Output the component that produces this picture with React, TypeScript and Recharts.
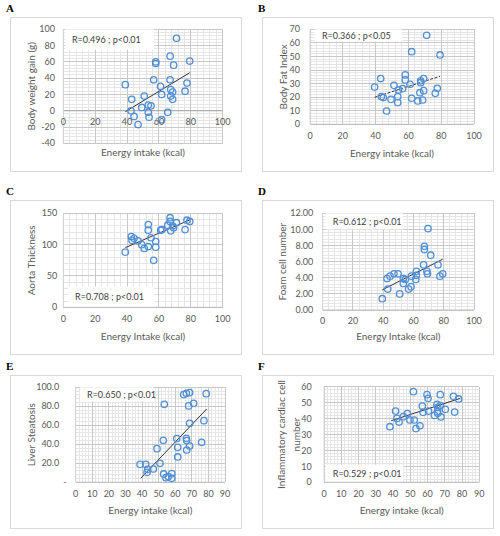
import React from "react";
import {
  ReferenceArea,
  ReferenceDot,
  ReferenceLine,
  Scatter,
  ScatterChart,
  XAxis,
  YAxis,
} from "recharts";

type Pair = [number, number];

const FONT = "Lato, 'Open Sans', Arial, sans-serif";
const INK = "#595959";
const BLUE = "#4F8FD6";

// energy intake (kcal) vs outcome, one pair per animal
const weightGain: Pair[] = [
  [38.9, 32], [42.9, 14], [42.5, 0], [44.4, -7], [46.9, -17], [49.2, 4], [50.8, 18],
  [53.3, 7], [53.3, -2], [53.8, -8], [55, 6], [56.7, 38], [58, 58], [58, 60], [61, 30],
  [61.7, 20], [61.7, -11], [65.5, -2], [67, 38], [67, 67], [67.4, 26], [67.4, 18],
  [68.6, 23], [68.6, 14], [69.2, 56], [71, 89], [76.4, 24], [77.6, 34], [79.3, 61],
];
const bodyFat: Pair[] = [
  [39.4, 27.5], [43.1, 33.7], [43.5, 20.4], [44.7, 19.7], [46.7, 9.8], [49.4, 18.4],
  [51.2, 28.7], [53.5, 20.4], [53.5, 16], [54, 25.3], [56.5, 26.3], [58.1, 36.4],
  [58.1, 32.7], [61, 29.5], [62, 53.5], [62, 19.2], [65.7, 17.2], [67, 23.3], [67.5, 30.7],
  [67.5, 32], [68.7, 17.9], [69.3, 24.8], [69.3, 33.7], [71.1, 65.6], [76.4, 22.8],
  [77.6, 26.5], [79.3, 51.1],
];
const aortaThickness: Pair[] = [
  [38.9, 88], [42.7, 113], [43.1, 107], [44.4, 110], [46.9, 106], [49.2, 100], [50.8, 94],
  [53.3, 132], [53.3, 123], [53.3, 97], [55, 111], [56.7, 75], [58, 105], [58, 96],
  [61.1, 123], [61.9, 124], [65.5, 131], [67, 143], [67, 137], [67.4, 122], [68.6, 130],
  [69.2, 127], [71, 135], [76.4, 124], [77.6, 139], [79.3, 137],
];
const foamCells: Pair[] = [
  [39.4, 1.4], [42.5, 3.9], [43, 2.6], [44.5, 4.2], [47.1, 4.5], [49.8, 4.5], [50.9, 2.0],
  [53.3, 3.9], [53.3, 3.3], [54.6, 3.8], [56.8, 2.6], [58.4, 2.9], [58.6, 4.2], [61.5, 3.8],
  [61.9, 4.8], [61.9, 4.3], [66.7, 5.6], [67.2, 7.9], [67.2, 7.5], [68.9, 4.8], [69.2, 4.5],
  [69.6, 10.1], [71.4, 6.8], [76.2, 5.6], [77.5, 4.2], [79.3, 4.5],
];
const liverSteatosis: Pair[] = [
  [38.8, 18.9], [42.2, 18.9], [43, 10.5], [43.4, 13.7], [46.8, 14], [49, 35.4], [50.8, 20],
  [52.8, 44.2], [53, 8.8], [53.4, 82.1], [54.4, 4.9], [55.8, 6], [57.9, 4.2], [57.9, 9.1],
  [60.9, 46], [61.5, 36.8], [61.5, 26.7], [65.1, 92.3], [66.7, 93.7], [66.7, 46.3],
  [66.9, 43.9], [66.9, 34], [68.1, 80.4], [68.7, 94.4], [68.7, 62.1], [68.7, 38.2],
  [71.1, 83.2], [75.9, 42.1], [77.3, 64.9], [78.7, 93.3],
];
const inflammatoryCells: Pair[] = [
  [38.2, 34.9], [41.5, 44.7], [42.3, 40.1], [43.5, 37.8], [46, 41.2], [48.3, 43.1],
  [49.8, 39.1], [51.8, 56.9], [52.3, 39.1], [53.3, 33.7], [55.6, 35.5], [57, 47.9],
  [57.4, 43.9], [59.7, 55], [60.3, 52.7], [60.6, 44.7], [64.1, 42], [65.5, 48.9],
  [65.7, 44.3], [65.9, 47], [65.9, 43.3], [67.4, 55], [67.4, 48.1], [67.8, 41],
  [70.3, 45.8], [75, 54], [75.7, 44.1], [78, 52.3],
];

// linear trend line end points
const weightGainTrend: Pair[] = [[38.9, -1.2], [79.3, 46.7]];
const bodyFatTrend: Pair[] = [[39.4, 19.9], [79.3, 35.4]];
const aortaTrend: Pair[] = [[38.9, 95.2], [79.3, 139.4]];
const foamTrend: Pair[] = [[39.4, 2.5], [79.3, 6.3]];
const steatosisTrend: Pair[] = [[39.2, 4.2], [79, 77.2]];
const inflammatoryTrend: Pair[] = [[39, 38.7], [79, 52.7]];

// axis ticks
const intakeTicks100 = [0, 20, 40, 60, 80, 100];
const intakeTicks90 = [0, 10, 20, 30, 40, 50, 60, 70, 80, 90];
const weightGainTicks = [-40, -20, 0, 20, 40, 60, 80, 100];
const bodyFatTicks = [0, 10, 20, 30, 40, 50, 60, 70];
const aortaTicks = [0, 50, 100, 150];
const foamTicks = [0, 2, 4, 6, 8, 10, 12];
const steatosisTicks = [0, 20, 40, 60, 80, 100];
const inflammatoryTicks = [0, 10, 20, 30, 40, 50, 60];

// Excel minor gridlines: 5 per major interval (majors left out)
function minorTicks(ticks: number[]) {
  const out: number[] = [];
  for (let i = 0; i < ticks.length - 1; i++) {
    const step = (ticks[i + 1] - ticks[i]) / 5;
    for (let k = 1; k < 5; k++) out.push(ticks[i] + step * k);
  }
  return out;
}

const ring = (p: any) => (
  <circle cx={p.cx} cy={p.cy} r={3.2} fill="none" stroke={BLUE} strokeWidth={1.3} />
);

function YTitle({ viewBox, lines, tx }: any) {
  const cy = viewBox.y + viewBox.height / 2;
  const lh = 14.5;
  const first = -((lines.length - 1) * lh) / 2 + 3.5;
  return (
    <text
      x={tx}
      y={cy}
      transform={`rotate(-90 ${tx} ${cy})`}
      textAnchor="middle"
      fill={INK}
      fontSize={10}
      fontFamily={FONT}
    >
      {lines.map((l: string, i: number) => (
        <tspan key={l} x={tx} dy={i === 0 ? first : lh}>
          {l}
        </tspan>
      ))}
    </text>
  );
}

const accountingTick = (p: any) => {
  const v = p.payload.value;
  return (
    <text
      x={p.x - (v === 0 ? 0 : 7.5)}
      y={p.y}
      dy="0.355em"
      textAnchor="end"
      fill={INK}
      fontSize={9}
      fontFamily={FONT}
    >
      {v === 0 ? "-" : v.toFixed(1)}
    </text>
  );
};

interface PanelProps {
  letter: string;
  box: { x: number; y: number; h: number };
  plot: { l: number; r: number; t: number; b: number };
  data: Pair[];
  trend: Pair[];
  xTicks: number[];
  yTicks: number[];
  yFormat?: (v: number) => string;
  yTick?: any;
  yTickGap: number;
  xTitle: string;
  xTitleOffset: number;
  yTitle: string[];
  yTitleX: number;
  stat: string;
  statArea: [number, number, number, number];
  xAtZero?: boolean;
  dashed?: boolean;
}

const W = 232;

function Panel(p: PanelProps) {
  const xDomain = [p.xTicks[0], p.xTicks[p.xTicks.length - 1]];
  const yDomain = [p.yTicks[0], p.yTicks[p.yTicks.length - 1]];
  const pts = p.data.map(([x, y]) => ({ x, y }));
  const tickStyle = { fill: INK, fontSize: 9, fontFamily: FONT };
  const minorStroke = "#E6E6E6";
  const majorStroke = "#C8C8C8";
  return (
    <>
      <div
        style={{
          position: "absolute",
          left: p.box.x - 4,
          top: p.box.y - 15,
          fontFamily: "'Liberation Serif', 'Times New Roman', serif",
          fontWeight: 700,
          fontSize: 11,
          lineHeight: "12px",
        }}
      >
        {p.letter}
      </div>
      <div
        style={{
          position: "absolute",
          left: p.box.x,
          top: p.box.y,
          width: W,
          height: p.box.h,
        }}
      >
        <div
          style={{
            position: "absolute",
            inset: 0,
            border: "1px solid #D9D9D9",
            boxSizing: "border-box",
          }}
        />
        <div style={{ position: "absolute", left: 0, top: 0 }}>
          <ScatterChart
            width={W}
            height={p.box.h}
            margin={{ top: p.plot.t, right: W - p.plot.r, bottom: 0, left: 0 }}
          >
            <XAxis
              type="number"
              dataKey="x"
              domain={xDomain}
              ticks={p.xTicks}
              interval={0}
              height={p.box.h - p.plot.b}
              tick={p.xAtZero ? false : tickStyle}
              tickLine={false}
              axisLine={p.xAtZero ? false : { stroke: "#BFBFBF" }}
              label={{
                value: p.xTitle,
                position: "insideTop",
                offset: p.xTitleOffset,
                fill: INK,
                fontSize: 10,
                fontFamily: FONT,
              }}
            />
            <YAxis
              type="number"
              dataKey="y"
              domain={yDomain}
              ticks={p.yTicks}
              interval={0}
              width={p.plot.l}
              tick={p.yTick ?? tickStyle}
              tickFormatter={p.yFormat}
              tickLine={false}
              tickMargin={p.yTickGap - 6}
              axisLine={{ stroke: "#D9D9D9" }}
              label={<YTitle lines={p.yTitle} tx={p.yTitleX} />}
            />
            {minorTicks(p.xTicks).map((v) => (
              <ReferenceLine key={`mx${v}`} x={v} stroke={minorStroke} strokeWidth={1} shapeRendering="crispEdges" />
            ))}
            {minorTicks(p.yTicks).map((v) => (
              <ReferenceLine key={`my${v}`} y={v} stroke={minorStroke} strokeWidth={1} shapeRendering="crispEdges" />
            ))}
            {p.xTicks.map((v) => (
              <ReferenceLine key={`Mx${v}`} x={v} stroke={majorStroke} strokeWidth={1} shapeRendering="crispEdges" />
            ))}
            {p.yTicks.map((v) => (
              <ReferenceLine key={`My${v}`} y={v} stroke={majorStroke} strokeWidth={1} shapeRendering="crispEdges" />
            ))}
            <ReferenceArea
              x1={p.statArea[0]}
              x2={p.statArea[1]}
              y1={p.statArea[2]}
              y2={p.statArea[3]}
              fill="#FFFFFF"
              fillOpacity={1}
              stroke="none"
              zIndex={450}
              label={{
                value: p.stat,
                position: "insideLeft",
                offset: 7,
                fill: "#404040",
                fontSize: 9,
                fontFamily: FONT,
              }}
            />
            {p.xAtZero && <ReferenceLine y={0} stroke="#A6A6A6" />}
            {p.xAtZero &&
              p.xTicks.map((v) => (
                <ReferenceDot
                  key={v}
                  x={v}
                  y={0}
                  r={0}
                  fill="none"
                  stroke="none"
                  label={{
                    value: String(v),
                    position: "bottom",
                    offset: 8,
                    fill: INK,
                    fontSize: 9,
                    fontFamily: FONT,
                  }}
                />
              ))}
            <ReferenceLine
              segment={p.trend.map(([x, y]) => ({ x, y }))}
              stroke="#333333"
              strokeWidth={1}
              strokeDasharray={p.dashed ? "3 1.5" : undefined}
            />
            <Scatter data={pts} shape={ring} isAnimationActive={false} />
          </ScatterChart>
        </div>
      </div>
    </>
  );
}

export default function App() {
  return (
    <div
      style={{
        position: "absolute",
        left: 0,
        top: 0,
        width: 500,
        height: 536,
        background: "#FFFFFF",
      }}
    >
      <Panel
        letter="A"
        box={{ x: 10, y: 17, h: 155 }}
        plot={{ l: 53.3, r: 212.7, t: 12.3, b: 126.3 }}
        data={weightGain}
        trend={weightGainTrend}
        xTicks={intakeTicks100}
        yTicks={weightGainTicks}
        yTickGap={8.3}
        xTitle="Energy intake (kcal)"
        xTitleOffset={6}
        yTitle={["Body weight gain (g)"]}
        yTitleX={22}
        stat="R=0.496 ; p<0.01"
        statArea={[1, 57, 75, 100]}
        xAtZero
      />
      <Panel
        letter="B"
        box={{ x: 262, y: 17, h: 155 }}
        plot={{ l: 48, r: 212, t: 12.3, b: 107.3 }}
        data={bodyFat}
        trend={bodyFatTrend}
        xTicks={intakeTicks100}
        yTicks={bodyFatTicks}
        yTickGap={10}
        xTitle="Energy intake (kcal)"
        xTitleOffset={26}
        yTitle={["Body Fat Index"]}
        yTitleX={21.5}
        stat="R=0.366 ; p<0.05"
        statArea={[3, 56, 61, 70]}
        dashed
      />
      <Panel
        letter="C"
        box={{ x: 10, y: 200, h: 155 }}
        plot={{ l: 53.3, r: 212.7, t: 13.3, b: 107.3 }}
        data={aortaThickness}
        trend={aortaTrend}
        xTicks={intakeTicks100}
        yTicks={aortaTicks}
        yTickGap={6}
        xTitle="Energy Intake (kcal)"
        xTitleOffset={26}
        yTitle={["Aorta Thickness"]}
        yTitleX={22}
        stat="R=0.708 ; p<0.01"
        statArea={[3, 57, 0, 33]}
      />
      <Panel
        letter="D"
        box={{ x: 262, y: 200, h: 155 }}
        plot={{ l: 60.7, r: 212, t: 13.3, b: 110 }}
        data={foamCells}
        trend={foamTrend}
        xTicks={intakeTicks100}
        yTicks={foamTicks}
        yFormat={(v) => v.toFixed(2)}
        yTickGap={9.4}
        xTitle="Energy Intake (kcal)"
        xTitleOffset={23}
        yTitle={["Foam cell number"]}
        yTitleX={20.3}
        stat="R=0.612 ; p<0.01"
        statArea={[2, 53, 10, 12]}
      />
      <Panel
        letter="E"
        box={{ x: 10, y: 375, h: 154 }}
        plot={{ l: 65.7, r: 215, t: 12.3, b: 107.3 }}
        data={liverSteatosis}
        trend={steatosisTrend}
        xTicks={intakeTicks90}
        yTicks={steatosisTicks}
        yTick={accountingTick}
        yTickGap={9}
        xTitle="Energy intake (kcal)"
        xTitleOffset={25}
        yTitle={["Liver Steatosis"]}
        yTitleX={21.7}
        stat="R=0.650 ; p<0.01"
        statArea={[2.6, 47, 85, 100]}
      />
      <Panel
        letter="F"
        box={{ x: 262, y: 375, h: 154 }}
        plot={{ l: 62, r: 217.3, t: 11.7, b: 107.3 }}
        data={inflammatoryCells}
        trend={inflammatoryTrend}
        xTicks={intakeTicks90}
        yTicks={inflammatoryTicks}
        yTickGap={12.3}
        xTitle="Energy intake (kcal)"
        xTitleOffset={25}
        yTitle={["Inflammatory cardiac cell", "number"]}
        yTitleX={27}
        stat="R=0.529 ; p<0.01"
        statArea={[1, 46, 0, 11]}
      />
    </div>
  );
}
